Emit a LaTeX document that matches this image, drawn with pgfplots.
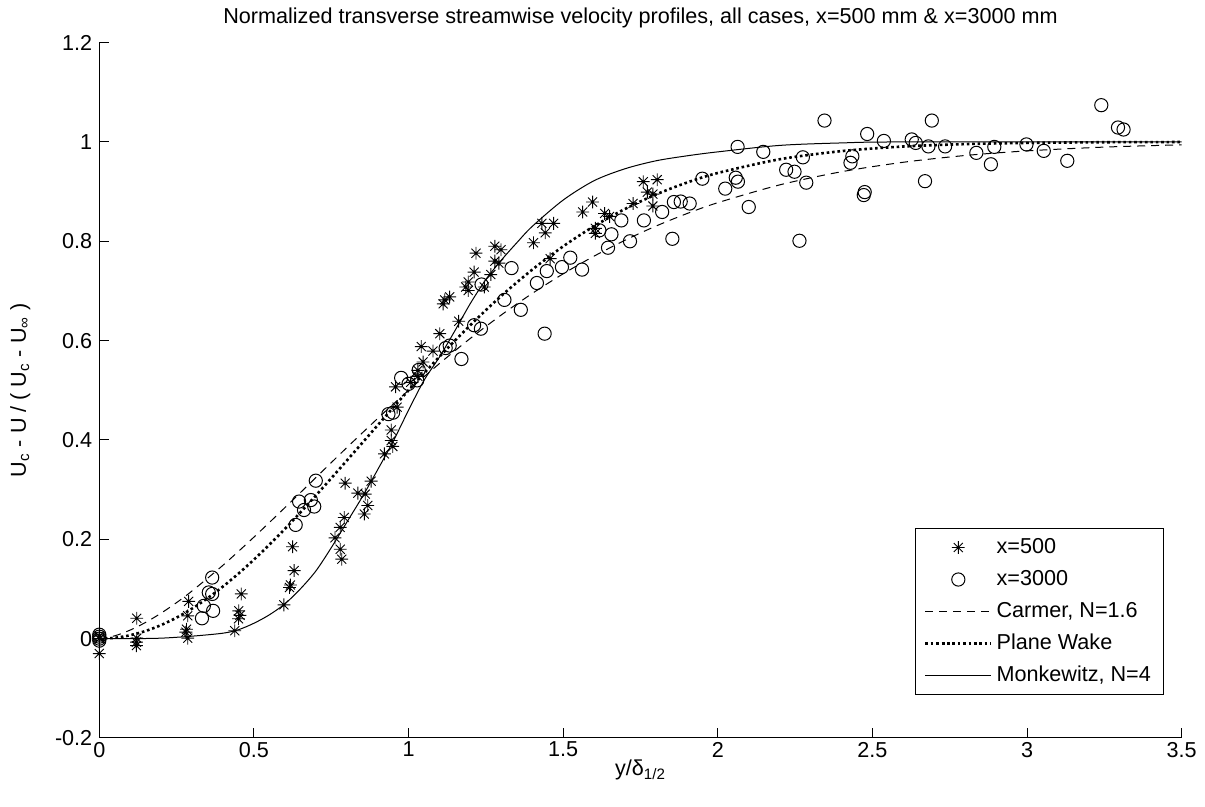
\documentclass[border=0pt]{standalone}
\usepackage{fontspec}
\setmainfont{Liberation Sans}
\usepackage{pgfplots}
\pgfplotsset{compat=1.18}
\newcommand{\ff}{\fontsize{10.8}{13}\selectfont}
\pgfdeclareplotmark{mstar}{%
 \pgfpathmoveto{\pgfqpoint{0pt}{\pgfplotmarksize}}\pgfpathlineto{\pgfqpoint{0pt}{-\pgfplotmarksize}}%
 \pgfpathmoveto{\pgfqpoint{\pgfplotmarksize}{0pt}}\pgfpathlineto{\pgfqpoint{-\pgfplotmarksize}{0pt}}%
 \pgfpathmoveto{\pgfqpoint{0.7071\pgfplotmarksize}{0.7071\pgfplotmarksize}}\pgfpathlineto{\pgfqpoint{-0.7071\pgfplotmarksize}{-0.7071\pgfplotmarksize}}%
 \pgfpathmoveto{\pgfqpoint{0.7071\pgfplotmarksize}{-0.7071\pgfplotmarksize}}\pgfpathlineto{\pgfqpoint{-0.7071\pgfplotmarksize}{0.7071\pgfplotmarksize}}%
 \pgfusepathqstroke}
\begin{document}
\begin{tikzpicture}
\begin{axis}[
 at={(0pt,0pt)}, anchor=south west,
 width=541.2pt, height=347.7pt, scale only axis,
 xmin=0, xmax=3.5, ymin=-0.2, ymax=1.2,
 axis x line*=bottom, axis y line*=left,
 axis line style={-, line width=0.5pt, black},
 tick align=inside, major tick length=5pt,
 tick style={line width=0.5pt, black},
 xtick={0,0.5,1,1.5,2,2.5,3,3.5},
 xticklabels={0,0.5,1,1.5,2,2.5,3,3.5},
 ytick={-0.2,0,0.2,0.4,0.6,0.8,1,1.2},
 yticklabels={-0.2,0,0.2,0.4,0.6,0.8,1,1.2},
 ticklabel style={font=\ff},
 xticklabel style={yshift=1.5pt},
 clip=false,
 every axis title shift=0pt,
 title={Normalized transverse streamwise velocity profiles, all cases, x=500 mm \& x=3000 mm},
 title style={font=\ff, at={(axis description cs:0.5,1)}, anchor=base, yshift=9.3pt},
 xlabel={y/δ\textsubscript{1/2}},
 xlabel style={font=\ff, at={(axis description cs:0.5,0)}, anchor=base, yshift=-19pt},
 ylabel={U\textsubscript{c} - U / ( U\textsubscript{c} - U\textsubscript{∞} )},
 ylabel style={font=\ff, at={(axis description cs:0,0.5)}, anchor=center, yshift=39.5pt},
 legend style={at={(axis description cs:0.984,0.0618)}, anchor=south east, draw=black, line width=0.5pt, fill=white, font=\ff, inner xsep=4.5pt, inner ysep=1.5pt,
   nodes={text height=8pt, text depth=2.5pt, inner ysep=2.75pt}},
 legend cell align=left,
 legend image code/.code={\draw[mark repeat=2,mark phase=2,#1] plot coordinates {(0pt,0pt) (16.5pt,0pt) (33pt,0pt)};},
]
\addplot[only marks, mark=mstar, mark size=3.2pt, line width=0.45pt, black] table {
x y
0 0
0 0.005
0 -0.03
0.121 0.041
0.121 0.001
0.12 -0.007
0.12 -0.014
0.289 0.075
0.286 0.046
0.282 0.019
0.28 0.013
0.286 0.001
0.459 0.090
0.451 0.056
0.455 0.047
0.45 0.04
0.438 0.016
0.630 0.137
0.618 0.108
0.615 0.103
0.597 0.068
0.625 0.185
0.784 0.160
0.779 0.180
0.762 0.203
0.779 0.224
0.792 0.244
0.857 0.251
0.868 0.268
0.836 0.293
0.860 0.291
0.795 0.313
0.879 0.317
0.922 0.372
0.949 0.387
0.944 0.399
0.944 0.420
0.963 0.466
0.958 0.507
1.007 0.516
1.030 0.528
1.030 0.540
1.047 0.557
1.079 0.579
1.041 0.588
1.101 0.614
1.162 0.639
1.112 0.674
1.117 0.682
1.133 0.688
1.193 0.701
1.185 0.708
1.245 0.708
1.193 0.718
1.266 0.733
1.212 0.738
1.279 0.760
1.292 0.756
1.458 0.765
1.218 0.776
1.279 0.790
1.299 0.783
1.404 0.797
1.442 0.817
1.431 0.836
1.469 0.836
1.604 0.816
1.604 0.826
1.65 0.85
1.634 0.856
1.563 0.859
1.595 0.879
1.726 0.876
1.790 0.871
1.79 0.895
1.772 0.899
1.759 0.920
1.804 0.924
};
\addlegendentry{x=500}
\addplot[only marks, mark=o, mark size=3.3pt, line width=0.5pt, black] table {
x y
0 0
0 0.004
0 0.008
0 -0.004
0.332 0.041
0.368 0.056
0.338 0.066
0.354 0.093
0.365 0.090
0.365 0.123
0.635 0.229
0.662 0.259
0.695 0.266
0.646 0.276
0.684 0.279
0.700 0.318
0.935 0.452
0.950 0.455
0.976 0.525
1.000 0.513
1.028 0.520
1.033 0.541
1.120 0.585
1.133 0.590
1.171 0.563
1.212 0.631
1.234 0.624
1.236 0.713
1.310 0.682
1.363 0.662
1.333 0.746
1.415 0.716
1.440 0.614
1.447 0.740
1.496 0.748
1.523 0.767
1.561 0.743
1.617 0.822
1.656 0.814
1.645 0.787
1.688 0.842
1.716 0.800
1.761 0.842
1.820 0.859
1.853 0.805
1.858 0.879
1.880 0.880
1.909 0.876
1.950 0.926
2.024 0.906
2.058 0.928
2.065 0.920
2.100 0.869
2.064 0.990
2.147 0.980
2.221 0.944
2.248 0.940
2.264 0.801
2.275 0.969
2.286 0.918
2.345 1.043
2.429 0.958
2.435 0.971
2.472 0.893
2.475 0.899
2.483 1.016
2.537 1.002
2.627 1.005
2.64 0.998
2.670 0.921
2.681 0.991
2.692 1.043
2.735 0.991
2.836 0.978
2.883 0.955
2.894 0.990
2.998 0.995
3.054 0.982
3.130 0.962
3.240 1.074
3.294 1.029
3.312 1.025
};
\addlegendentry{x=3000}
\addplot[black, line width=0.5pt, dash pattern=on 4pt off 3pt, smooth] table {
x y
0 0
0.05 0.0057
0.1 0.0173
0.15 0.0328
0.2 0.0514
0.25 0.0726
0.3 0.0961
0.4 0.1478
0.5 0.2044
0.6 0.2637
0.7 0.3241
0.8 0.3844
0.9 0.4432
1.0 0.5
1.1 0.5539
1.2 0.6046
1.3 0.6517
1.4 0.6950
1.5 0.7345
1.6 0.7701
1.7 0.8021
1.8 0.8306
1.9 0.8557
2.0 0.8777
2.2 0.9135
2.4 0.9400
2.6 0.9591
2.8 0.9727
3.0 0.9820
3.25 0.9896
3.5 0.9942
};
\addlegendentry{Carmer, N=1.6}
\addplot[black, line width=1.3pt, dash pattern=on 1.3pt off 1.4pt, smooth] table {
x y
0 0
0.05 0.0017
0.1 0.0069
0.15 0.0155
0.2 0.0274
0.25 0.0424
0.3 0.0605
0.35 0.0814
0.4 0.1050
0.45 0.1310
0.5 0.1591
0.55 0.1892
0.6 0.2208
0.65 0.2539
0.7 0.2880
0.75 0.3229
0.8 0.3583
0.85 0.3939
0.9 0.4296
0.95 0.4650
1.0 0.5
1.1 0.5677
1.2 0.6314
1.3 0.6901
1.4 0.7429
1.5 0.7898
1.6 0.8304
1.7 0.8651
1.8 0.8942
1.9 0.9181
2.0 0.9375
2.2 0.9651
2.4 0.9815
2.6 0.9908
2.8 0.9956
3.0 0.9980
3.25 0.9994
3.5 0.9998
};
\addlegendentry{Plane Wake}
\addplot[black, line width=0.5pt, smooth] table {
x y
0 0
0.1 0
0.2 0.001
0.3 0.005
0.4 0.011
0.45 0.018
0.5 0.031
0.55 0.048
0.6 0.070
0.65 0.100
0.7 0.136
0.75 0.183
0.8 0.234
0.85 0.285
0.9 0.340
0.95 0.397
1.0 0.460
1.05 0.520
1.1 0.567
1.15 0.620
1.2 0.675
1.25 0.723
1.3 0.762
1.35 0.797
1.4 0.830
1.5 0.883
1.6 0.922
1.7 0.946
1.8 0.962
1.9 0.972
2.0 0.980
2.2 0.993
2.4 0.998
2.6 1.0
3.5 1.0
};
\addlegendentry{Monkewitz, N=4}
\end{axis}
\pgfresetboundingbox
\path (-49.65pt,-34.5pt) rectangle (552.85pt,369pt);
\end{tikzpicture}
\end{document}
